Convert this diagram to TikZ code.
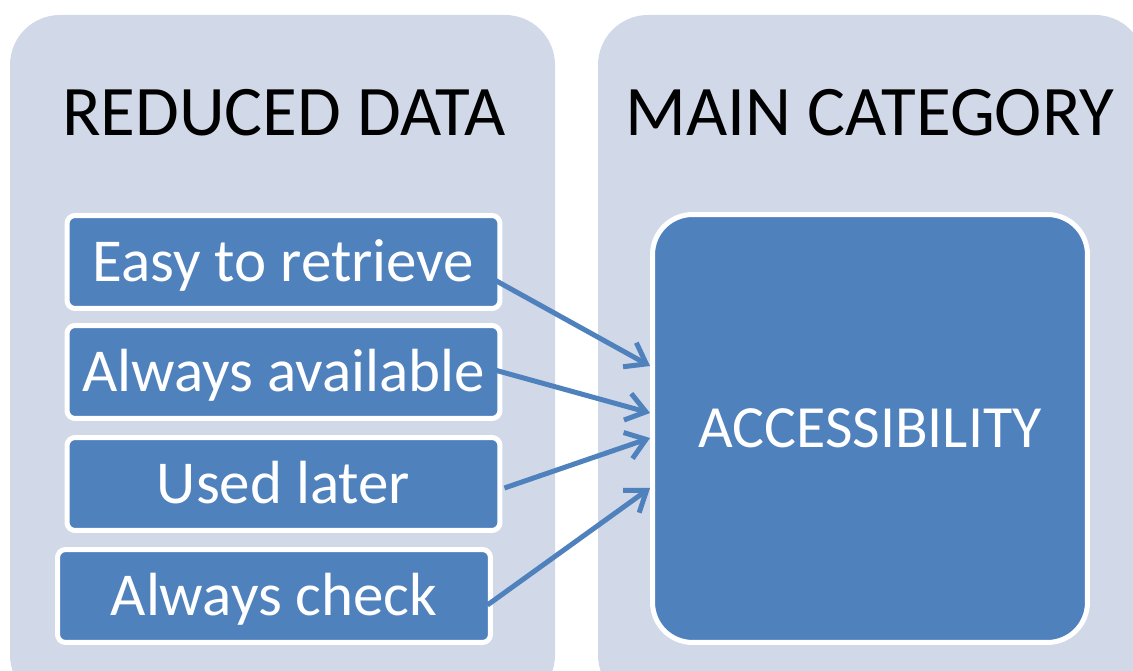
\documentclass[tikz,border=0pt]{standalone}
\usepackage{fontspec}
\setmainfont{Carlito}
\usetikzlibrary{positioning,arrows.meta}
\definecolor{panelbg}{HTML}{D1D8E7}
\definecolor{boxblue}{HTML}{4F81BD}

\begin{document}
\begin{tikzpicture}[x=0.02cm, y=-0.02cm,
    panel/.style={fill=panelbg, rounded corners=1cm},
    title/.style={font=\fontsize{40.5}{48}\selectfont, inner sep=0pt},
    itembox/.style={draw=white, line width=0.1cm, fill=boxblue, rounded corners=0.16cm,
      minimum width=8.66cm, minimum height=1.86cm, inner sep=0pt, text=white,
      font=\fontsize{34.7}{42}\selectfont, text height=22.3pt, text depth=0pt},
    bigbox/.style={draw=white, line width=0.1cm, fill=boxblue, rounded corners=0.8cm,
      minimum width=8.7cm, minimum height=8.56cm, inner sep=0pt, text=white,
      font=\fontsize{34.1}{41}\selectfont, text height=22pt, text depth=0pt},
    link/.style={boxblue, line width=0.1cm, -{Straight Barb[length=0.38cm, width=0.55cm]}}]
      \useasboundingbox (0,0) rectangle (1133,671);

      % Background panels
      \begin{scope}
        \clip (0,0) rectangle (1133,671);
        \fill[panel] (10,15) rectangle (555,705);
        \fill[panel] (598,15) rectangle (1145,705);
      \end{scope}

      % Panel titles
      \node[title] (reduced) at (284,113) {REDUCED DATA};
      \node[title] (maincat) at (870,113) {MAIN CATEGORY};

      % Reduced data items
      \node[itembox] (easy) at (283.5,262) {Easy to retrieve};
      \node[itembox] (avail) at (283.5,372) {Always available};
      \node[itembox] (later) at (283.5,484) {Used later};
      \node[itembox] (check) at (274,596) {Always check};

      % Main category
      \node[bigbox] (access) at (870,428.5) {ACCESSIBILITY};

      % Arrows from the items to the category
      \draw[link] ([xshift=-0.3cm, yshift=-0.28cm]easy.east) -- ([yshift=1.25cm]access.west);
      \draw[link] ([xshift=-0.3cm, yshift=0.08cm]avail.east) -- ([yshift=0.31cm]access.west);
      \draw[link] ([xshift=0.04cm, yshift=-0.08cm]later.east) -- ([yshift=-0.19cm]access.west);
      \draw[link] ([xshift=-0.11cm, yshift=-0.18cm]check.east) -- ([yshift=-1.19cm]access.west);
\end{tikzpicture}
\end{document}
